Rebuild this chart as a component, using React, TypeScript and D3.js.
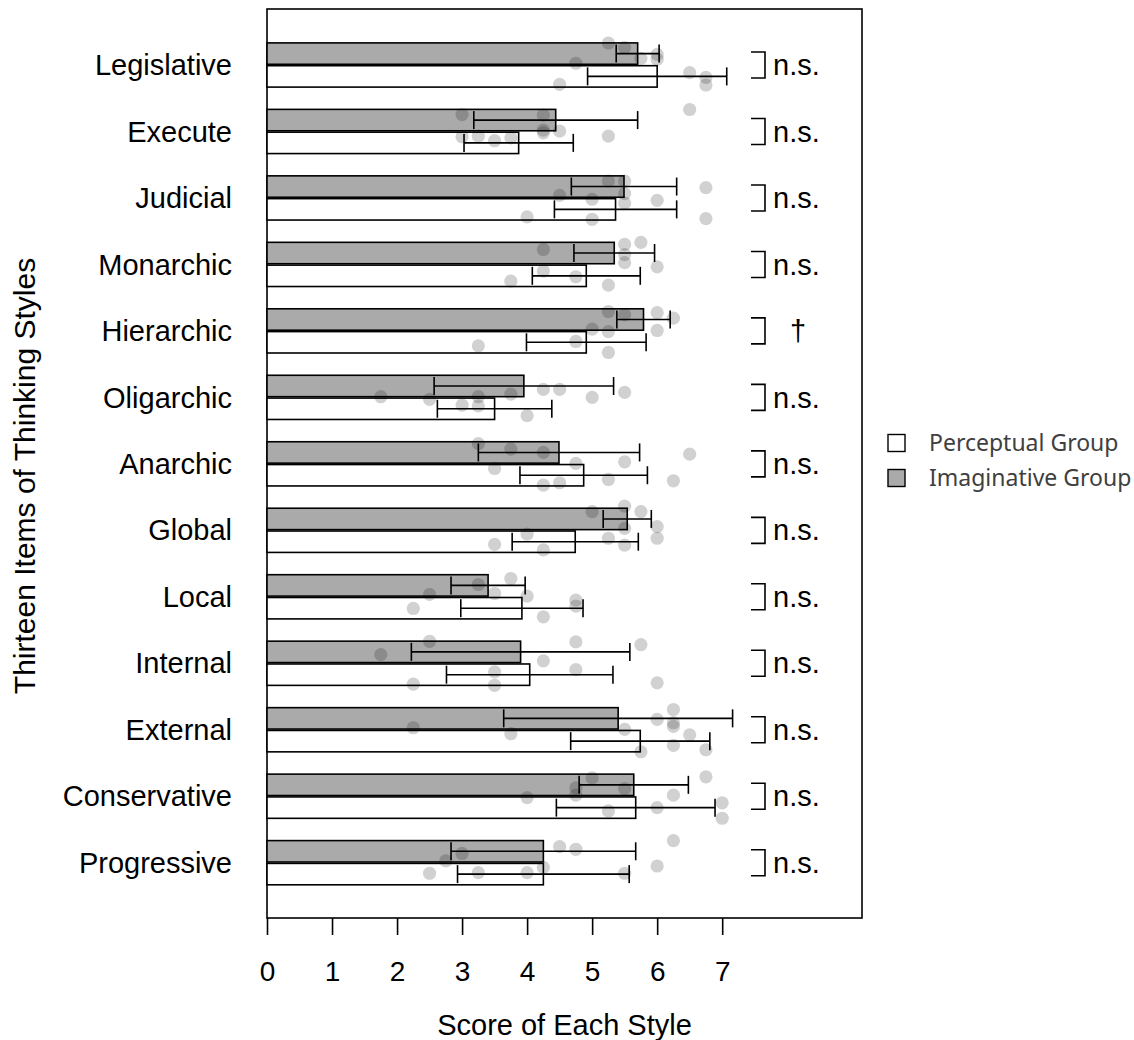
import React, { useEffect, useRef } from 'react';
import * as d3 from 'd3';

const categories = [
  'Legislative', 'Execute', 'Judicial', 'Monarchic', 'Hierarchic', 'Oligarchic', 'Anarchic',
  'Global', 'Local', 'Internal', 'External', 'Conservative', 'Progressive',
];

const imaginativeMean = [5.7, 4.44, 5.49, 5.34, 5.79, 3.95, 4.49, 5.54, 3.4, 3.9, 5.4, 5.64, 4.25];
const imaginativeErr = [0.33, 1.26, 0.81, 0.62, 0.41, 1.38, 1.24, 0.37, 0.57, 1.68, 1.76, 0.84, 1.42];
const perceptualMean = [6.0, 3.87, 5.36, 4.91, 4.91, 3.5, 4.87, 4.74, 3.92, 4.04, 5.74, 5.67, 4.25];
const perceptualErr = [1.07, 0.84, 0.94, 0.83, 0.92, 0.88, 0.98, 0.97, 0.94, 1.28, 1.07, 1.22, 1.32];
const significance = ['n.s.', 'n.s.', 'n.s.', 'n.s.', '†', 'n.s.', 'n.s.', 'n.s.', 'n.s.', 'n.s.', 'n.s.', 'n.s.', 'n.s.'];

// individual scores: [score, vertical jitter in bar heights from the category centre]
const imaginativePoints: [number, number][][] = [
  [[5.25, -1.0], [5.5, -0.79], [5.75, -0.3], [6, -0.48], [6, -0.26], [4.75, -0.08]],
  [[3, -0.77], [4.25, -0.74], [4.25, -0.06], [4.5, -0.02], [6.5, -1.0]],
  [[5.25, -0.77], [5.5, -0.77], [5.5, -0.2], [4.5, -0.12], [6.75, -0.47]],
  [[4.25, -0.68], [5.75, -1.0], [5.5, -0.91], [5.5, -0.45], [5.5, -0.08]],
  [[5.25, -0.88], [5.5, -0.73], [6, -0.83], [6.25, -0.58], [5, -0.08]],
  [[1.75, -0.03], [2.5, 0.09], [3.25, -0.03], [3.75, -0.15], [4.25, -0.36], [4.5, -0.36], [5, 0], [5.5, -0.23]],
  [[3.25, -0.92], [3.75, -0.67], [4.25, -0.52], [6.5, -0.44], [4.75, -0.02], [5.5, -0.09]],
  [[5, -0.85], [5.5, -1.1], [5.75, -0.85], [5.5, -0.09], [6, -0.17]],
  [[3.75, -0.83], [3.25, -0.56], [3.5, -0.15], [2.5, -0.11], [4, -0.03]],
  [[2.5, -1.0], [1.75, -0.39], [4.75, -0.97], [5.75, -0.85], [4.25, -0.11]],
  [[6.25, -0.92], [6, -0.47], [6.25, -0.32], [6.25, -0.15], [2.25, -0.09], [5.5, -0.02]],
  [[5, -0.83], [6.75, -0.88], [4.75, -0.38], [5.5, -0.35], [4.75, -0.05], [4, 0.06]],
  [[6.25, -1.0], [4.5, -0.73], [4.75, -0.61], [3, -0.42], [2.75, -0.08]],
];

const perceptualPoints: [number, number][][] = [
  [[6.5, 0.35], [6.75, 0.56], [6.75, 0.91], [4.5, 0.88]],
  [[3, 0.24], [3.25, 0.21], [3.5, 0.42], [3.75, 0.29], [5.25, 0.21], [4.25, 0.06]],
  [[5, 0.06], [6, 0.11], [5.5, 0.23], [4, 0.86], [5, 0.97], [6.75, 0.94]],
  [[6, 0.11], [4.25, 0.3], [4.75, 0.56], [3.75, 0.76], [5.25, 0.94]],
  [[5.25, 0.03], [6, -0.02], [4.75, 0.48], [3.25, 0.68], [5.25, 0.98]],
  [[3, 0.35], [3.25, 0.39], [4, 0.83]],
  [[3.5, 0.21], [4.25, 0.97], [4.5, 0.86], [5.25, 0.71], [6.25, 0.77]],
  [[6, 0.36], [5.25, 0.36], [5.5, 0.67], [4, 0.17], [3.5, 0.64], [4.25, 0.89]],
  [[4.75, 0.15], [4.75, 0.42], [2.25, 0.53], [4.25, 0.91]],
  [[3.5, 0.39], [4.75, 0.29], [2.25, 0.95], [3.5, 1.0], [6, 0.89]],
  [[3.75, 0.18], [6.5, 0.23], [6.25, 0.71], [6.75, 0.91], [5.75, 1.0]],
  [[6.25, -0.05], [6, 0.52], [5.25, 0.67], [7, 0.3], [7, 1.0]],
  [[4.25, 0.21], [6, 0.15], [2.5, 0.48], [3.25, 0.45], [4, 0.45], [5.5, 0.48]],
];

const xTicks = [0, 1, 2, 3, 4, 5, 6, 7];
const legendLabels = ['Perceptual Group', 'Imaginative Group'];

const FONT = '"Liberation Sans", Arial, Helvetica, sans-serif';

const ThinkingStylesChart = () => {
  const svgRef = useRef<SVGSVGElement>(null);

  useEffect(() => {
    const svg = d3.select(svgRef.current);
    svg.selectAll('*').remove();

    const left = 267, right = 862, top = 9, bottom = 918;
    const barH = 21.4;

    const x = d3.scaleLinear().domain([0, 9.15]).range([left, right]);
    const y = d3.scalePoint<string>().domain(categories).range([65, 862.7]);

    const rows = categories.map((c, i) => ({
      name: c,
      cy: y(c) as number,
      im: imaginativeMean[i],
      ie: imaginativeErr[i],
      pm: perceptualMean[i],
      pe: perceptualErr[i],
      sig: significance[i],
      ip: imaginativePoints[i],
      pp: perceptualPoints[i],
    }));

    // frame
    svg.append('rect')
      .attr('x', left).attr('y', top)
      .attr('width', right - left).attr('height', bottom - top)
      .attr('fill', 'none').attr('stroke', '#000').attr('stroke-width', 1.6);

    // x axis
    const xAxis = svg.append('g')
      .attr('transform', `translate(0,${bottom})`)
      .call(d3.axisBottom(x).tickValues(xTicks).tickSize(17).tickSizeOuter(0).tickPadding(26).tickFormat(d3.format('d')));
    xAxis.select('.domain').remove();
    xAxis.selectAll('line').attr('stroke', '#000').attr('stroke-width', 1.6);
    xAxis.selectAll('text').attr('font-family', FONT).attr('font-size', 28).attr('fill', '#000');

    // bars
    const g = svg.append('g');
    g.selectAll('.bar-im').data(rows).enter().append('rect')
      .attr('x', x(0)).attr('y', d => d.cy - barH - 0.7)
      .attr('width', d => x(d.im) - x(0)).attr('height', barH)
      .attr('fill', '#aaaaaa').attr('stroke', '#000').attr('stroke-width', 1.6);
    g.selectAll('.bar-pe').data(rows).enter().append('rect')
      .attr('x', x(0)).attr('y', d => d.cy + 0.7)
      .attr('width', d => x(d.pm) - x(0)).attr('height', barH)
      .attr('fill', '#ffffff').attr('stroke', '#000').attr('stroke-width', 1.6);

    // individual points
    const pts: { v: number; py: number }[] = [];
    rows.forEach(d => {
      d.ip.forEach(([v, j]) => pts.push({ v, py: d.cy + j * 22 }));
      d.pp.forEach(([v, j]) => pts.push({ v, py: d.cy + j * 22 }));
    });
    g.selectAll('.pt').data(pts).enter().append('circle')
      .attr('cx', d => x(d.v)).attr('cy', d => d.py).attr('r', 6.6)
      .attr('fill', '#000').attr('fill-opacity', 0.18);

    // error bars
    const err = (mean: number, e: number, cy: number) => {
      const e1 = g.append('g').attr('stroke', '#000').attr('stroke-width', 1.6);
      e1.append('line').attr('x1', x(mean - e)).attr('x2', x(mean + e)).attr('y1', cy).attr('y2', cy);
      e1.append('line').attr('x1', x(mean - e)).attr('x2', x(mean - e)).attr('y1', cy - 9).attr('y2', cy + 9);
      e1.append('line').attr('x1', x(mean + e)).attr('x2', x(mean + e)).attr('y1', cy - 9).attr('y2', cy + 9);
    };
    rows.forEach(d => {
      err(d.im, d.ie, d.cy - barH / 2 - 0.7);
      err(d.pm, d.pe, d.cy + barH / 2 + 0.7);
    });

    // significance brackets
    rows.forEach(d => {
      svg.append('path')
        .attr('d', `M751,${d.cy - 13}H765V${d.cy + 13}H751`)
        .attr('fill', 'none').attr('stroke', '#000').attr('stroke-width', 1.6);
      svg.append('text')
        .attr('x', d.sig === '†' ? 790 : 773).attr('y', d.cy).attr('dy', '0.35em')
        .attr('font-family', FONT).attr('font-size', 29).text(d.sig);
    });

    // category labels
    svg.append('g').selectAll('text').data(rows).enter().append('text')
      .attr('x', 232).attr('y', d => d.cy).attr('dy', '0.35em')
      .attr('text-anchor', 'end').attr('font-family', FONT).attr('font-size', 29)
      .text(d => d.name);

    // axis titles
    svg.append('text')
      .attr('x', (left + right) / 2).attr('y', 1035)
      .attr('text-anchor', 'middle').attr('font-family', FONT).attr('font-size', 29)
      .text('Score of Each Style');
    svg.append('text')
      .attr('transform', `translate(35,476) rotate(-90)`)
      .attr('text-anchor', 'middle').attr('font-family', FONT).attr('font-size', 30)
      .text('Thirteen Items of Thinking Styles');

    // legend
    const legend = svg.append('g');
    legendLabels.forEach((lab, i) => {
      const ly = 443 + i * 35;
      legend.append('rect')
        .attr('x', 888).attr('y', ly - 8.5).attr('width', 17).attr('height', 17)
        .attr('fill', i === 0 ? '#ffffff' : '#aaaaaa').attr('stroke', '#000').attr('stroke-width', 1.4);
      legend.append('text')
        .attr('x', 929).attr('y', ly).attr('dy', '0.35em')
        .attr('font-family', '"Noto Sans", "Open Sans", sans-serif').attr('font-size', 23)
        .attr('fill', '#404040').text(lab);
    });
  }, []);

  return (
    <svg ref={svgRef} width={1134} height={1040}
      style={{ position: 'absolute', left: 0, top: 0, background: '#fff' }} />
  );
};

export default function App() {
  return <ThinkingStylesChart />;
}
